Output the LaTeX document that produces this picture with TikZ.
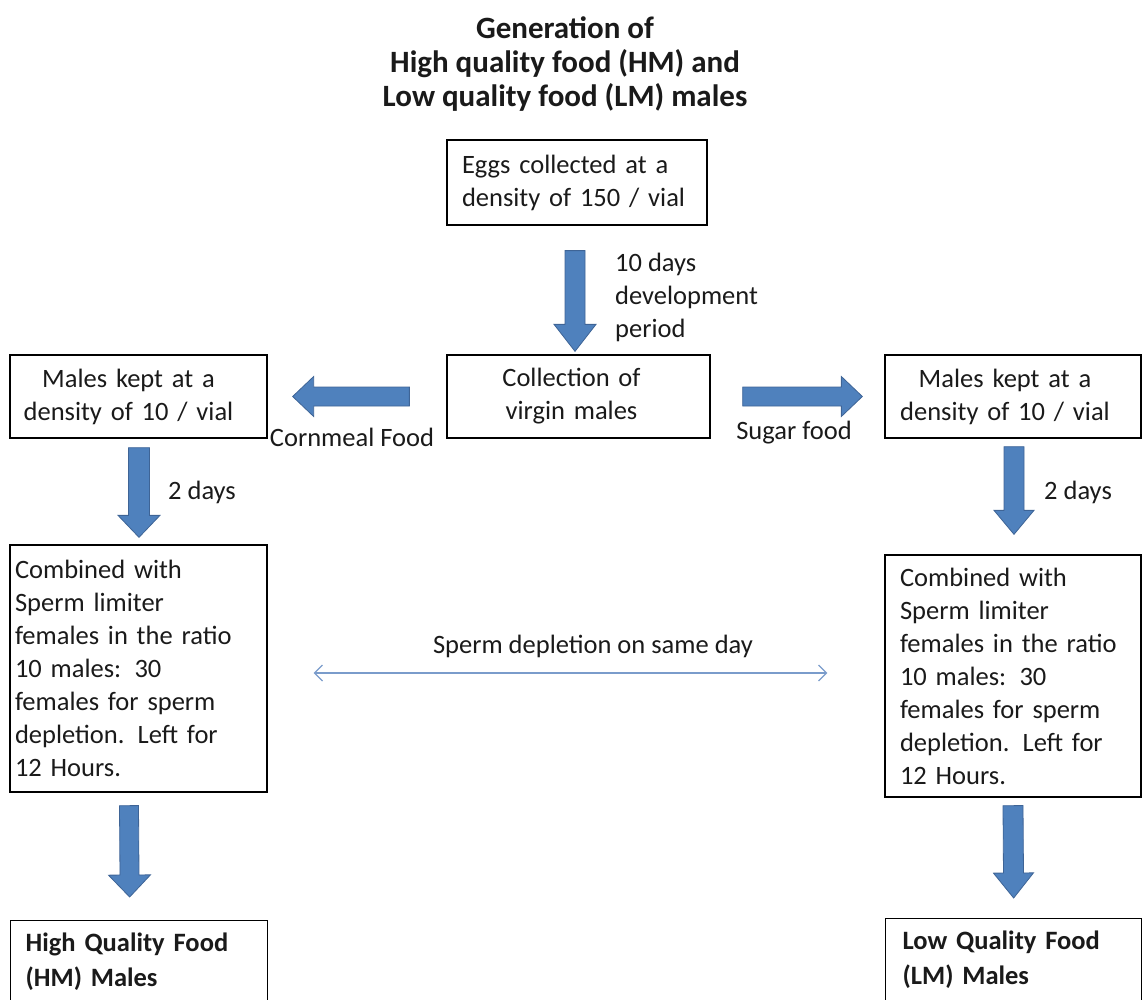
\documentclass[tikz,border=0pt]{standalone}
\usepackage{fontspec}
\setmainfont{Carlito}
\usetikzlibrary{calc,arrows.meta}
\definecolor{arrblue}{HTML}{4F81BD}
\definecolor{arrdark}{HTML}{3E6496}
\definecolor{thinblue}{HTML}{7A9CCB}
\definecolor{txt}{HTML}{1A1A1A}
\newcommand\blkarr[5]{% #1 start, #2 tip, #3 shaft half width, #4 head half width, #5 head length
  \coordinate (bah) at ($(#2)!#5!(#1)$);
  \filldraw[arrblue, draw=arrdark, line width=0.8pt, line join=miter]
    ($(#1)!#3!90:(#2)$) -- ($(bah)!#3!90:(#2)$) -- ($(bah)!#4!90:(#2)$) -- (#2)
    -- ($(bah)!#4!-90:(#2)$) -- ($(bah)!#3!-90:(#2)$) -- ($(#1)!#3!-90:(#2)$) -- cycle;}
\begin{document}
\begin{tikzpicture}[x=1pt,y=-1pt,
  box/.style={draw=black, line width=1.3pt, rectangle, inner ysep=0pt, font=\fontsize{26.5}{33}\selectfont, text=txt},
  lbl/.style={font=\fontsize{26.5}{33}\selectfont, text=txt, inner sep=0pt}]
\useasboundingbox (0,0) rectangle (1143,1000);
\clip (0,0) rectangle (1143,1000);

\node[align=center, text=txt, font=\fontsize{31}{34}\selectfont\bfseries, inner sep=0pt] (title) at (565,64)
  {Generation of\\High quality food (HM) and\\Low quality food (LM) males};

\node[box, minimum height=85pt, text width=230pt, inner xsep=15pt, align=left] (eggs) at (577,182.5)
  {Eggs collected at a\\density of 150 / vial};
\node[box, minimum height=83pt, text width=243pt, inner xsep=10pt, align=center] (coll) at (578.5,396.5)
  {\hspace*{-14pt}Collection of\\\hspace*{-14pt}virgin males};
\node[box, minimum height=83pt, text width=237pt, inner xsep=10pt, align=center] (malesL) at (138.5,396.5)
  {\hspace*{-20pt}Males kept at a\\\hspace*{-20pt}density of 10 / vial};
\node[box, minimum height=83pt, text width=236pt, inner xsep=10pt, align=center] (malesR) at (1013,396.5)
  {\hspace*{-16pt}Males kept at a\\\hspace*{-16pt}density of 10 / vial};
\node[box, minimum height=247pt, text width=247pt, inner xsep=5pt, align=left] (combL) at (138.5,668.5)
  {Combined with\\Sperm limiter\\females in the ratio\\10 males: 30\\females for sperm\\depletion. Left for\\12 Hours.};
\node[box, minimum height=242pt, text width=226pt, inner xsep=15pt, align=left] (combR) at (1013,676)
  {Combined with\\Sperm limiter\\females in the ratio\\10 males: 30\\females for sperm\\depletion. Left for\\12 Hours.};
\node[box, anchor=north west, text width=227pt, inner xsep=15pt, inner ysep=12pt, align=left, font=\fontsize{26.5}{35}\selectfont\bfseries] (hq) at (10,920)
  {High Quality Food\\(HM) Males\\\mbox{}\\\mbox{}};
\node[box, anchor=north west, text width=222pt, inner xsep=17pt, inner ysep=12pt, align=left, font=\fontsize{26.5}{35}\selectfont\bfseries] (lq) at (885,918)
  {Low Quality Food\\(LM) Males\\\mbox{}\\\mbox{}};

\node[lbl, align=left, anchor=west] (dev) at (615,297) {10 days\\development\\period};
\node[lbl] (corn) at (352,437) {Cornmeal Food};
\node[lbl] (sugar) at (794,433) {Sugar food};
\node[lbl] (d2L) at (202,492) {2 days};
\node[lbl] (d2R) at (1078,492) {2 days};
\node[lbl] (depl) at (593,646) {Sperm depletion on same day};

% block arrows between named boxes
\coordinate (a1s) at ($(eggs.south)+(-2,25)$);
\coordinate (a1e) at ($(coll.north)+(-3.5,-3)$);
\blkarr{a1s}{a1e}{10pt}{21pt}{27pt}
\coordinate (a2s) at ($(coll.west)+(-37,0)$);
\coordinate (a2e) at ($(malesL.east)+(25,0)$);
\blkarr{a2s}{a2e}{9.5pt}{20pt}{21pt}
\coordinate (a3s) at ($(coll.east)+(32,0)$);
\coordinate (a3e) at ($(malesR.west)+(-22,0)$);
\blkarr{a3s}{a3e}{9.5pt}{20pt}{21pt}
\coordinate (a4s) at ($(malesL.south)+(0.5,9)$);
\coordinate (a4e) at ($(combL.north)+(0.5,-7)$);
\blkarr{a4s}{a4e}{10.5pt}{21pt}{22pt}
\coordinate (a5s) at ($(malesR.south)+(1,8)$);
\coordinate (a5e) at ($(combR.north)+(1,-20)$);
\blkarr{a5s}{a5e}{10pt}{20pt}{24pt}
\coordinate (a6s) at ($(combL.south)+(-9.5,13)$);
\coordinate (a6e) at ($(hq.north)+(-9.5,-23)$);
\blkarr{a6s}{a6e}{9.5pt}{21pt}{22pt}
\coordinate (a7s) at ($(combR.south)+(0,8)$);
\coordinate (a7e) at ($(lq.north)+(0,-20)$);
\blkarr{a7s}{a7e}{10pt}{20pt}{25pt}

\draw[thinblue, line width=1.2pt, {Straight Barb[length=8pt,width=16pt]}-{Straight Barb[length=8pt,width=16pt]}]
  ($(combL.east)+(46,4.5)$) -- ($(combR.west)+(-57,-3)$);
\end{tikzpicture}
\end{document}
